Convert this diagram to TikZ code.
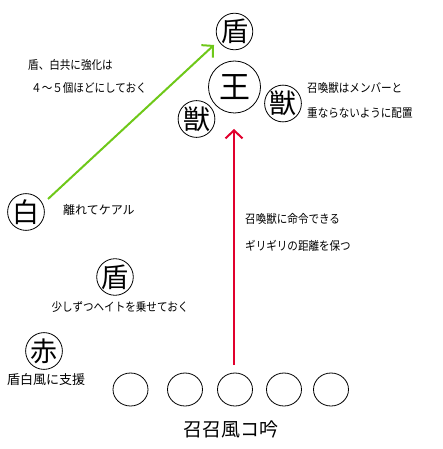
\documentclass[tikz,border=0pt]{standalone}
\usepackage{fontspec}
\setmainfont{Noto Sans CJK JP}
\newfontfamily\narrowfont{Noto Sans CJK JP}[FakeStretch=0.88]
\usetikzlibrary{arrows.meta,shapes.geometric}
\definecolor{arrgreen}{RGB}{110,200,25}
\definecolor{arrred}{RGB}{225,0,45}
\tikzset{
  unit/.style={circle,draw=black,line width=0.8pt,inner sep=0pt,minimum size=34pt,font=\fontsize{27}{27}\selectfont},
  king/.style={unit,minimum size=52pt,font=\fontsize{31}{31}\selectfont},
  slot/.style={ellipse,draw=black,line width=0.8pt,inner sep=0pt,minimum width=35pt,minimum height=33pt},
  note/.style={inner sep=0pt,font=\narrowfont\fontsize{12}{14}\selectfont},
  notel/.style={note,anchor=west},
  move/.style={line width=2pt,-{Straight Barb[length=8pt,width=17pt,line width=2pt]}}
}
\begin{document}
\begin{tikzpicture}[x=1pt,y=-1pt]
\useasboundingbox (0,0) rectangle (442,449);
% units
\node[unit] (shieldtop) at (234.5,31.5) {盾};
\node[king] (king) at (234.5,87) {王};
\node[unit] (beastR) at (283,103.5) {獣};
\node[unit] (beastL) at (196.5,119) {獣};
\node[unit] (white) at (26,212) {白};
\node[unit] (shieldmid) at (115,277) {盾};
\node[unit] (red) at (44,351) {赤};
% party slots
\node[slot] (s1) at (130.5,389.5) {};
\node[slot] (s2) at (185,389.5) {};
\node[slot] (s3) at (235,389.5) {};
\node[slot] (s4) at (284,389.5) {};
\node[slot] (s5) at (331,389.5) {};
\node[inner sep=0pt,font=\fontsize{19}{19}\selectfont] (summoner) at (231,429) {召召風コ吟};
% notes
\node[notel] (n1) at (28,65) {盾、白共に強化は};
\node[notel] (n2) at (31,88) {４～５個ほどにしておく};
\node[notel,font=\fontsize{12}{14}\selectfont] (n3) at (63,210) {離れてケアル};
\node[notel] (n4) at (307,88) {召喚獣はメンバーと};
\node[notel] (n5) at (307,113) {重ならないように配置};
\node[notel] (n6) at (245,219) {召喚獣に命令できる};
\node[notel] (n7) at (245,246) {ギリギリの距離を保つ};
\node[note] (n8) at (120,307) {少しずつヘイトを乗せておく};
\node[note,font=\fontsize{13}{15}\selectfont] (n9) at (46,380) {盾白風に支援};
% arrows
\coordinate (gstart) at (48,199);
\coordinate (gend) at (214,45);
\coordinate (rstart) at (234,365);
\coordinate (rend) at (234,129);
\draw[move,draw=arrgreen] (gstart) -- (gend);
\draw[move,draw=arrred] (rstart) -- (rend);
\end{tikzpicture}
\end{document}
